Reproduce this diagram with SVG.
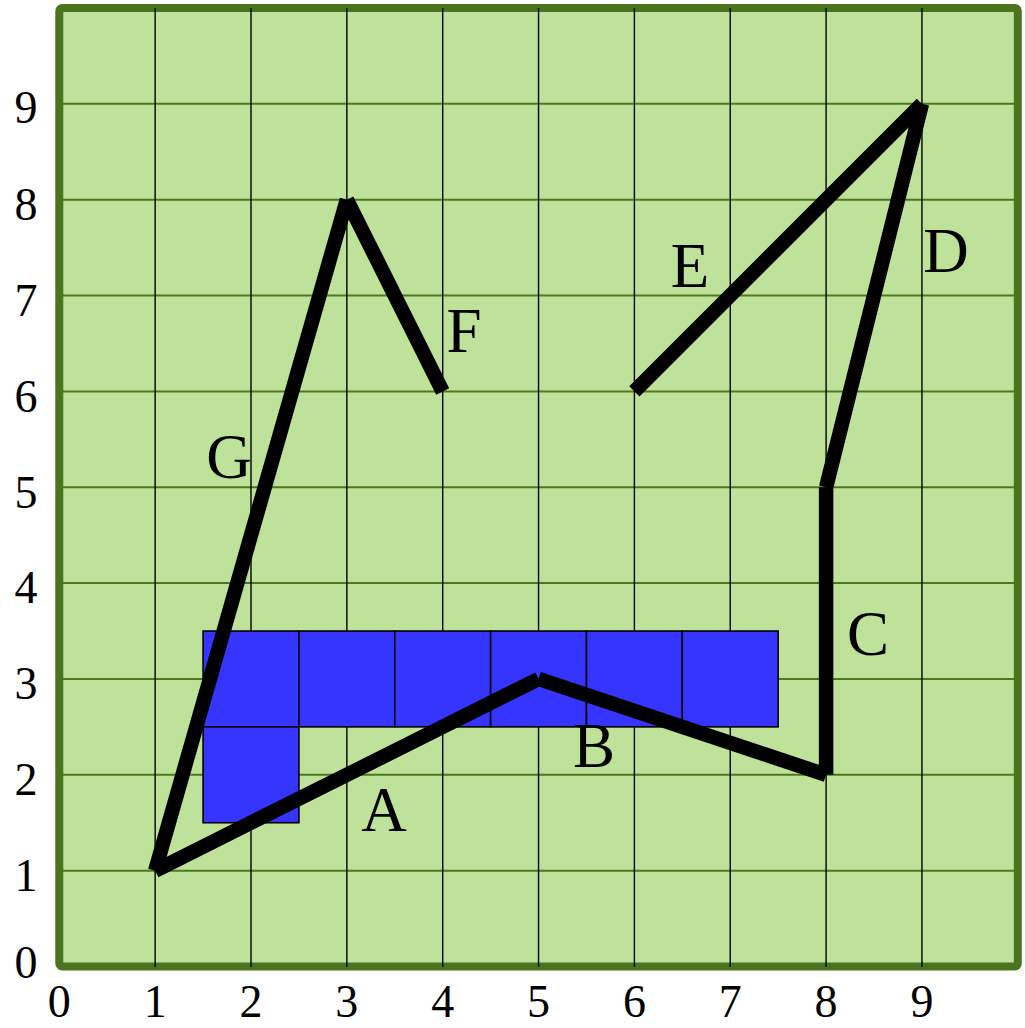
<svg xmlns="http://www.w3.org/2000/svg" width="1025" height="1028" viewBox="0 0 1025 1028">
<style>
.hl{stroke:#4a7a1e;stroke-width:2;fill:none}
.vl{stroke:#000;stroke-width:1.4;fill:none}
.cell{fill:#3535ff;stroke:#000;stroke-width:1.6}
.seg{stroke:#000;stroke-width:14.5;stroke-linecap:butt;fill:none}
.ax{font-family:"Liberation Serif","Times New Roman",serif;font-size:46px;fill:#000;text-anchor:middle}
.lb{font-family:"Liberation Serif","Times New Roman",serif;font-size:63px;fill:#000;text-anchor:middle}
</style>
<rect width="1025" height="1028" fill="#fff"/>
<g id="board">
<rect x="59.3" y="8" width="958.5" height="958.5" rx="3" fill="#bfe29a"/>
<g id="hgrid">
<line class="hl" x1="59.3" y1="870.65" x2="1017.8" y2="870.65"/>
<line class="hl" x1="59.3" y1="774.8" x2="1017.8" y2="774.8"/>
<line class="hl" x1="59.3" y1="678.95" x2="1017.8" y2="678.95"/>
<line class="hl" x1="59.3" y1="583.1" x2="1017.8" y2="583.1"/>
<line class="hl" x1="59.3" y1="487.25" x2="1017.8" y2="487.25"/>
<line class="hl" x1="59.3" y1="391.4" x2="1017.8" y2="391.4"/>
<line class="hl" x1="59.3" y1="295.55" x2="1017.8" y2="295.55"/>
<line class="hl" x1="59.3" y1="199.7" x2="1017.8" y2="199.7"/>
<line class="hl" x1="59.3" y1="103.85" x2="1017.8" y2="103.85"/>
</g>
<rect x="59.3" y="8" width="958.5" height="958.5" rx="3" fill="none" stroke="#4b741f" stroke-width="8"/>
<g id="vgrid">
<line class="vl" x1="155.15" y1="8" x2="155.15" y2="967"/>
<line class="vl" x1="251" y1="8" x2="251" y2="967"/>
<line class="vl" x1="346.85" y1="8" x2="346.85" y2="967"/>
<line class="vl" x1="442.7" y1="8" x2="442.7" y2="967"/>
<line class="vl" x1="538.55" y1="8" x2="538.55" y2="967"/>
<line class="vl" x1="634.4" y1="8" x2="634.4" y2="967"/>
<line class="vl" x1="730.25" y1="8" x2="730.25" y2="967"/>
<line class="vl" x1="826.1" y1="8" x2="826.1" y2="967"/>
<line class="vl" x1="921.95" y1="8" x2="921.95" y2="967"/>
</g>
</g>
<g id="blocks">
<rect class="cell" x="203.08" y="631.03" width="95.85" height="95.85"/>
<rect class="cell" x="298.93" y="631.03" width="95.85" height="95.85"/>
<rect class="cell" x="394.78" y="631.03" width="95.85" height="95.85"/>
<rect class="cell" x="490.63" y="631.03" width="95.85" height="95.85"/>
<rect class="cell" x="586.48" y="631.03" width="95.85" height="95.85"/>
<rect class="cell" x="682.33" y="631.03" width="95.85" height="95.85"/>
<rect class="cell" x="203.08" y="726.88" width="95.85" height="95.85"/>
</g>
<g id="connectors">
<line id="segA" class="seg" x1="155.15" y1="870.65" x2="538.55" y2="678.95"/>
<line id="segB" class="seg" x1="538.55" y1="678.95" x2="826.1" y2="774.8"/>
<line id="segC" class="seg" x1="826.1" y1="774.8" x2="826.1" y2="487.25"/>
<line id="segD" class="seg" x1="826.1" y1="487.25" x2="921.95" y2="103.85"/>
<line id="segE" class="seg" x1="634.4" y1="391.4" x2="921.95" y2="103.85"/>
<line id="segF" class="seg" x1="346.85" y1="199.7" x2="442.7" y2="391.4"/>
<line id="segG" class="seg" x1="155.15" y1="870.65" x2="346.85" y2="199.7"/>
</g>
<g id="labels">
<text class="lb" x="384" y="831">A</text>
<text class="lb" x="594" y="767">B</text>
<text class="lb" x="868" y="655">C</text>
<text class="lb" x="946" y="272">D</text>
<text class="lb" x="690" y="287">E</text>
<text class="lb" x="464" y="352">F</text>
<text class="lb" x="229" y="478">G</text>
</g>
<g id="xaxis">
<text class="ax" x="59.3" y="1017">0</text>
<text class="ax" x="155.15" y="1017">1</text>
<text class="ax" x="251" y="1017">2</text>
<text class="ax" x="346.85" y="1017">3</text>
<text class="ax" x="442.7" y="1017">4</text>
<text class="ax" x="538.55" y="1017">5</text>
<text class="ax" x="634.4" y="1017">6</text>
<text class="ax" x="730.25" y="1017">7</text>
<text class="ax" x="826.1" y="1017">8</text>
<text class="ax" x="921.95" y="1017">9</text>
</g>
<g id="yaxis">
<text class="ax" x="26" y="978">0</text>
<text class="ax" x="26" y="891">1</text>
<text class="ax" x="26" y="795">2</text>
<text class="ax" x="26" y="699">3</text>
<text class="ax" x="26" y="603">4</text>
<text class="ax" x="26" y="507.5">5</text>
<text class="ax" x="26" y="411.5">6</text>
<text class="ax" x="26" y="315.5">7</text>
<text class="ax" x="26" y="219.5">8</text>
<text class="ax" x="26" y="123">9</text>
</g>
</svg>
